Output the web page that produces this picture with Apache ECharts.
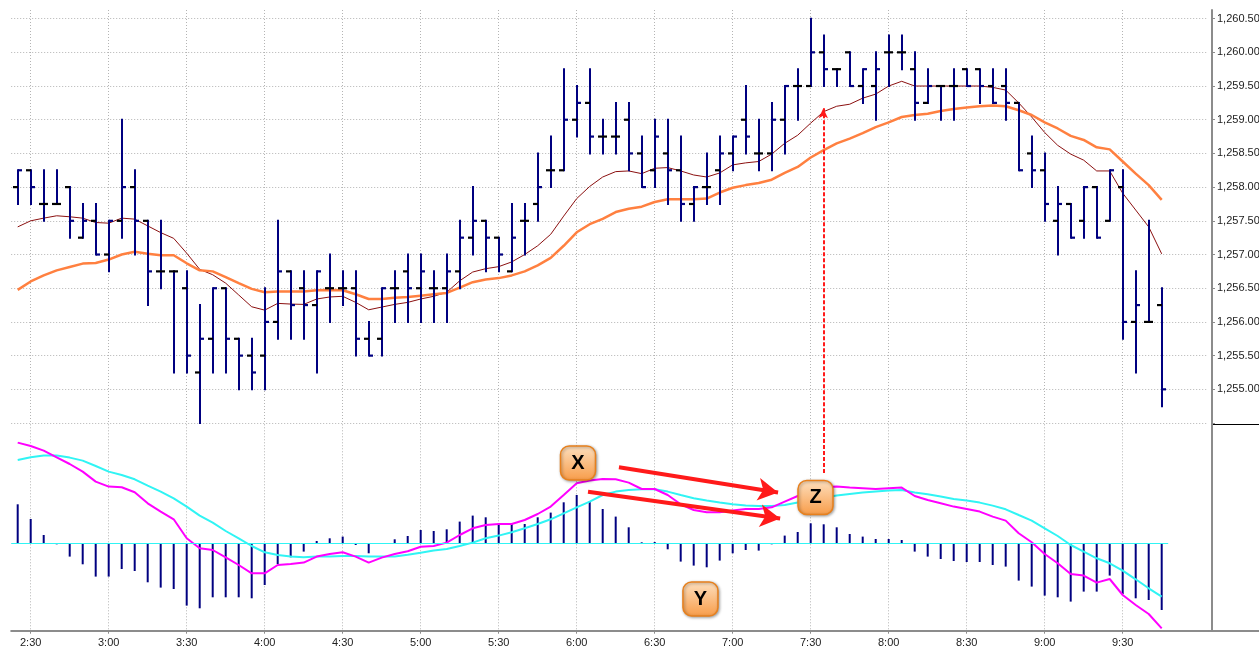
<!DOCTYPE html>
<html lang="en">
<head>
<meta charset="UTF-8">
<title>5-min bars with MACD</title>
<script src="https://cdn.jsdelivr.net/npm/echarts@6.0.0/dist/echarts.min.js"></script>
<style>
  html, body { margin: 0; padding: 0; background: #fff; }
  #chart { width: 1259px; height: 653px; }
</style>
</head>
<body>
<div id="chart"></div>
<script>
// time axis: 5-minute bars, last 3 slots are empty space on the right
const times = [
  '2:25','2:30','2:35','2:40','2:45','2:50','2:55',
  '3:00','3:05','3:10','3:15','3:20','3:25','3:30','3:35','3:40','3:45','3:50','3:55',
  '4:00','4:05','4:10','4:15','4:20','4:25','4:30','4:35','4:40','4:45','4:50','4:55',
  '5:00','5:05','5:10','5:15','5:20','5:25','5:30','5:35','5:40','5:45','5:50','5:55',
  '6:00','6:05','6:10','6:15','6:20','6:25','6:30','6:35','6:40','6:45','6:50','6:55',
  '7:00','7:05','7:10','7:15','7:20','7:25','7:30','7:35','7:40','7:45','7:50','7:55',
  '8:00','8:05','8:10','8:15','8:20','8:25','8:30','8:35','8:40','8:45','8:50','8:55',
  '9:00','9:05','9:10','9:15','9:20','9:25','9:30','9:35','9:40','9:45','9:50','9:55',
  '10:00'
];

const open = [
  1258, 1258.25, 1257.75, 1257.75, 1258, 1257.25, 1257.5, 1257, 1257.5, 1258,
  1257.5, 1256.75, 1256.75, 1256.5, 1255.25, 1255.75, 1256.5, 1255.75, 1255.5, 1255.5,
  1256, 1256.75, 1256.5, 1256.25, 1256.5, 1256.5, 1256.5, 1255.75, 1255.75, 1256.5,
  1256.75, 1256.5, 1256.5, 1256.5, 1256.75, 1257.25, 1257.5, 1257.25, 1256.75, 1257.5,
  1257.75, 1258.25, 1258.25, 1259, 1259.25, 1258.75, 1258.75, 1259, 1258.5, 1258.25,
  1258.5, 1258.25, 1257.75, 1258, 1258.25, 1258.5, 1259, 1258.5, 1258.5, 1259,
  1259.5, 1259.5, 1260, 1259.75, 1260, 1259.5, 1259.5, 1260, 1260, 1259.75,
  1259.25, 1259.5, 1259.5, 1259.75, 1259.75, 1259.5, 1259.5, 1259.25, 1258.5, 1258.25,
  1257.5, 1257.75, 1257.5, 1258, 1257.5, 1258, 1256, 1256, 1256.25
];
const high = [
  1258.25, 1258.25, 1258.25, 1258.25, 1258, 1257.75, 1257.75, 1257.5, 1259, 1258.25,
  1257.5, 1257.5, 1256.75, 1256.75, 1256.25, 1256.5, 1256.5, 1255.75, 1255.75, 1256.5,
  1257.5, 1256.75, 1256.75, 1256.75, 1257, 1256.75, 1256.75, 1256, 1256.5, 1256.75,
  1257, 1257, 1256.75, 1257, 1257.5, 1258, 1257.5, 1257.25, 1257.75, 1257.75,
  1258.5, 1258.75, 1259.75, 1259.5, 1259.75, 1259, 1259.25, 1259.25, 1258.75, 1259,
  1259, 1258.75, 1258, 1258.5, 1258.75, 1258.75, 1259.5, 1259, 1259.25, 1259.5,
  1259.75, 1260.5, 1260.25, 1259.75, 1260, 1259.75, 1260, 1260.25, 1260.25, 1260,
  1259.75, 1259.5, 1259.75, 1259.75, 1259.75, 1259.75, 1259.75, 1259.25, 1258.75, 1258.5,
  1258, 1257.75, 1258, 1258, 1258.25, 1258.25, 1256.75, 1257.5, 1256.5
];
const low = [
  1257.75, 1257.75, 1257.5, 1257.75, 1257.25, 1257.25, 1257, 1256.75, 1257.25, 1257,
  1256.25, 1256.5, 1255.25, 1255.25, 1254.5, 1255.25, 1255.25, 1255, 1255, 1255,
  1255.75, 1255.75, 1255.75, 1255.25, 1256, 1256.25, 1255.5, 1255.5, 1255.5, 1256,
  1256, 1256, 1256, 1256, 1256.5, 1257, 1256.75, 1256.75, 1256.75, 1257,
  1257.5, 1258, 1258.25, 1258.75, 1258.5, 1258.5, 1258.5, 1258.25, 1258, 1258,
  1257.75, 1257.5, 1257.5, 1257.75, 1257.75, 1258.25, 1258.5, 1258.25, 1258.25, 1258.5,
  1259, 1259.5, 1259.5, 1259.5, 1259.5, 1259.25, 1259, 1259.5, 1259.75, 1259,
  1259.25, 1259, 1259, 1259.5, 1259.25, 1259.25, 1259, 1258.25, 1258, 1257.5,
  1257, 1257.25, 1257.25, 1257.25, 1257.5, 1255.75, 1255.25, 1256, 1254.75
];
const close = [
  1258.25, 1258, 1257.75, 1257.75, 1257.5, 1257.5, 1257, 1257.5, 1258, 1257.5,
  1256.75, 1256.75, 1256.75, 1255.5, 1255.75, 1256.5, 1255.75, 1255.5, 1255.25, 1256,
  1256.75, 1256.25, 1256.25, 1256.75, 1256.5, 1256.5, 1255.75, 1255.5, 1256.5, 1256.5,
  1256.5, 1256.75, 1256.5, 1256.75, 1257.25, 1257.5, 1257.25, 1257, 1257.25, 1257.5,
  1258, 1258.25, 1259, 1259.25, 1258.75, 1258.75, 1258.75, 1258.5, 1258, 1258.75,
  1258.25, 1257.75, 1258, 1258, 1258.5, 1258.75, 1258.75, 1258.5, 1259, 1259.5,
  1259.5, 1260, 1259.75, 1259.75, 1259.5, 1259.75, 1259.75, 1260, 1260, 1259.25,
  1259.5, 1259.5, 1259.5, 1259.5, 1259.5, 1259.25, 1259.25, 1258.25, 1258.25, 1257.75,
  1257.75, 1257.25, 1258, 1257.25, 1258.25, 1256, 1256.25, 1256, 1255
];

// moving averages
const maFast = [
  1257.41, 1257.5, 1257.54, 1257.575, 1257.56, 1257.54, 1257.475, 1257.465, 1257.54, 1257.525,
  1257.425, 1257.325, 1257.24, 1257.02, 1256.78, 1256.7, 1256.575, 1256.4, 1256.225, 1256.175,
  1256.275, 1256.265, 1256.26, 1256.34, 1256.37, 1256.38, 1256.29, 1256.18, 1256.22, 1256.26,
  1256.29, 1256.34, 1256.38, 1256.44, 1256.61, 1256.74, 1256.79, 1256.82, 1256.89, 1257.0,
  1257.13, 1257.3, 1257.57, 1257.83, 1258.01, 1258.15, 1258.23, 1258.24, 1258.2, 1258.28,
  1258.29, 1258.24, 1258.18, 1258.15, 1258.21, 1258.33, 1258.36, 1258.38, 1258.49, 1258.65,
  1258.77, 1258.95, 1259.12, 1259.2, 1259.23, 1259.32, 1259.38, 1259.5, 1259.57, 1259.5,
  1259.5, 1259.5, 1259.5, 1259.5, 1259.5, 1259.48, 1259.44, 1259.25, 1259.04, 1258.81,
  1258.62, 1258.49, 1258.4, 1258.24, 1258.24, 1257.91, 1257.66, 1257.41, 1257.01
];
const maSlow = [
  1256.475, 1256.6, 1256.69, 1256.765, 1256.815, 1256.865, 1256.875, 1256.925, 1257.0, 1257.04,
  1257.01, 1256.99, 1256.99, 1256.87, 1256.765, 1256.75, 1256.665, 1256.575, 1256.49, 1256.44,
  1256.45, 1256.45, 1256.45, 1256.47, 1256.475, 1256.47, 1256.41, 1256.34, 1256.34, 1256.36,
  1256.37, 1256.39, 1256.41, 1256.43, 1256.51, 1256.59, 1256.63, 1256.65, 1256.69, 1256.75,
  1256.84, 1256.95, 1257.13, 1257.33, 1257.45, 1257.53, 1257.63, 1257.68, 1257.71, 1257.78,
  1257.82, 1257.82, 1257.82, 1257.83, 1257.92, 1257.99, 1258.03, 1258.06, 1258.11, 1258.21,
  1258.3, 1258.44, 1258.55, 1258.65, 1258.72, 1258.8, 1258.89, 1258.96, 1259.04, 1259.07,
  1259.09, 1259.13, 1259.16, 1259.18, 1259.2, 1259.21, 1259.2, 1259.14, 1259.07, 1258.96,
  1258.87, 1258.76, 1258.7, 1258.59, 1258.56, 1258.38, 1258.2, 1258.03, 1257.81
];

// lower panel: macd, signal and histogram
const macd = [
  1.007, 0.973, 0.927, 0.86, 0.793, 0.717, 0.617, 0.567, 0.56, 0.51,
  0.4, 0.317, 0.24, 0.05, -0.05, -0.067, -0.14, -0.217, -0.3, -0.3,
  -0.217, -0.207, -0.193, -0.133, -0.107, -0.09, -0.133, -0.193, -0.143, -0.107,
  -0.08, -0.035, -0.027, 0.007, 0.083, 0.15, 0.183, 0.193, 0.193, 0.233,
  0.293, 0.367, 0.483, 0.6, 0.627, 0.643, 0.64, 0.607, 0.543, 0.543,
  0.483, 0.39, 0.333, 0.31, 0.31, 0.327, 0.343, 0.343, 0.36, 0.417,
  0.473, 0.52, 0.56, 0.567, 0.557, 0.55, 0.543, 0.55, 0.557, 0.473,
  0.433, 0.4, 0.367, 0.343, 0.317, 0.267, 0.227, 0.1, 0.01, -0.107,
  -0.2, -0.307, -0.323, -0.393, -0.357, -0.517, -0.617, -0.707, -0.85
];
const signal = [
  0.833, 0.86, 0.877, 0.877, 0.857, 0.827, 0.773, 0.717, 0.683, 0.64,
  0.577, 0.517, 0.45, 0.367, 0.277, 0.207, 0.123, 0.05, -0.027, -0.09,
  -0.117, -0.133, -0.14, -0.133, -0.133, -0.127, -0.127, -0.133, -0.133, -0.133,
  -0.115, -0.095, -0.073, -0.057, -0.027, 0.007, 0.05, 0.077, 0.11, 0.15,
  0.193, 0.24, 0.3, 0.36, 0.417, 0.483, 0.517, 0.533, 0.54, 0.54,
  0.517, 0.483, 0.45, 0.427, 0.407, 0.39, 0.377, 0.373, 0.373, 0.383,
  0.407, 0.43, 0.455, 0.477, 0.493, 0.507, 0.517, 0.527, 0.533, 0.507,
  0.49, 0.467, 0.443, 0.427, 0.407, 0.377, 0.34, 0.283, 0.227, 0.15,
  0.073, -0.017, -0.083, -0.15, -0.2, -0.273, -0.36, -0.45, -0.533
];
const hist = [
  0.39, 0.243, 0.083, -0.01, -0.133, -0.21, -0.333, -0.333, -0.257, -0.277,
  -0.39, -0.443, -0.457, -0.623, -0.65, -0.54, -0.54, -0.54, -0.55, -0.417,
  -0.207, -0.14, -0.083, 0.023, 0.05, 0.067, -0.017, -0.1, 0.003, 0.04,
  0.073, 0.133, 0.123, 0.14, 0.217, 0.277, 0.26, 0.2, 0.193, 0.193,
  0.26, 0.307, 0.41, 0.483, 0.423, 0.343, 0.267, 0.16, 0.01, 0.013,
  -0.06, -0.183, -0.223, -0.24, -0.173, -0.1, -0.067, -0.073, -0.01, 0.077,
  0.113, 0.2, 0.19, 0.16, 0.093, 0.067, 0.043, 0.043, 0.033, -0.083,
  -0.133, -0.157, -0.177, -0.187, -0.187, -0.217, -0.233, -0.373, -0.433, -0.523,
  -0.54, -0.583, -0.483, -0.483, -0.323, -0.507, -0.55, -0.567, -0.667
];

const NAVY = '#000080';
const GRID_DOT = '#b4b4b4';
const AXIS_GREY = '#8c8c8c';
const FONT = "'Liberation Sans', Arial, sans-serif";
const nBars = open.length;
const showAt = (i) => i % 6 === 1 && i < nBars;

const ohlc = open.map((o, i) => [i, o, high[i], low[i], close[i]]);

function renderBar(params, api) {
  const i = api.value(0);
  const o = api.coord([i, api.value(1)]);
  const h = api.coord([i, api.value(2)]);
  const l = api.coord([i, api.value(3)]);
  const c = api.coord([i, api.value(4)]);
  const x = Math.round(o[0]);
  const doji = api.value(1) === api.value(4);
  return {
    type: 'group',
    children: [
      { type: 'line', shape: { x1: x, y1: h[1] - 1, x2: x, y2: l[1] + 1 }, style: { stroke: NAVY, lineWidth: 2 } },
      { type: 'line', shape: { x1: x - 5, y1: o[1], x2: x, y2: o[1] }, style: { stroke: '#000', lineWidth: 2.2 } },
      { type: 'line', shape: { x1: x, y1: c[1], x2: x + 4, y2: c[1] }, style: { stroke: doji ? '#000' : NAVY, lineWidth: 2.2 } }
    ]
  };
}

function catAxis(gridIndex, labels) {
  return {
    type: 'category',
    gridIndex: gridIndex,
    data: times,
    boundaryGap: true,
    axisLine: { show: labels, onZero: false, lineStyle: { color: AXIS_GREY, width: 2 } },
    axisTick: { show: labels, alignWithLabel: true, interval: showAt, length: 3, lineStyle: { color: AXIS_GREY } },
    axisLabel: { show: labels, interval: showAt, color: '#222', fontSize: 11, fontFamily: FONT, margin: 7 },
    splitLine: { show: true, alignWithLabel: true, interval: showAt, lineStyle: { color: GRID_DOT, type: [1, 2], width: 1 } }
  };
}

const chart = echarts.init(document.getElementById('chart'));

const option = {
  animation: false,
  backgroundColor: '#fff',
  grid: [
    { left: 11.2, right: 51.8, top: 10, height: 414.3, containLabel: false, outerBoundsMode: 'none' },
    { left: 11.2, right: 51.8, top: 424.3, height: 206.4, containLabel: false, outerBoundsMode: 'none' }
  ],
  xAxis: [
    catAxis(0, false),
    catAxis(1, true),
    { type: 'value', gridIndex: 1, min: -0.5, max: 91.5, show: false },
    { type: 'value', gridIndex: 0, min: -0.5, max: 91.5, show: false }
  ],
  yAxis: [
    {
      type: 'value', gridIndex: 0, position: 'right', offset: 4.8,
      min: 1254.481, max: 1260.628, splitNumber: 12, minInterval: 0.5, maxInterval: 0.5,
      axisLine: { show: true, onZero: false, lineStyle: { color: AXIS_GREY, width: 2 } },
      axisTick: { show: true, length: 3, lineStyle: { color: AXIS_GREY } },
      axisLabel: {
        showMinLabel: false, showMaxLabel: false, margin: 5,
        color: '#222', fontSize: 11, fontFamily: FONT,
        formatter: (v) => (v < 1254.9 || v > 1260.6) ? '' :
          v.toLocaleString('en-US', { minimumFractionDigits: 2, maximumFractionDigits: 2 })
      },
      splitLine: { show: true, showMinLine: false, showMaxLine: false, lineStyle: { color: GRID_DOT, type: [1, 2] } }
    },
    {
      type: 'value', gridIndex: 1, position: 'right', offset: 4.8,
      min: -0.874, max: 1.19,
      axisLine: { show: true, onZero: false, lineStyle: { color: AXIS_GREY, width: 2 } },
      axisTick: { show: false }, axisLabel: { show: false }, splitLine: { show: false }
    }
  ],
  series: [
    {
      name: 'Fast MA', type: 'line', xAxisIndex: 0, yAxisIndex: 0, data: maFast,
      showSymbol: false, lineStyle: { color: '#8b1010', width: 1 }, z: 2
    },
    {
      name: 'Slow MA', type: 'line', xAxisIndex: 0, yAxisIndex: 0, data: maSlow,
      showSymbol: false, lineStyle: { color: '#ff8040', width: 2.5 }, z: 2
    },
    {
      name: 'Price', type: 'custom', xAxisIndex: 0, yAxisIndex: 0, data: ohlc,
      renderItem: renderBar, encode: { x: 0, y: [1, 2, 3, 4] }, z: 3
    },
    {
      name: 'Histogram', type: 'bar', xAxisIndex: 1, yAxisIndex: 1, data: hist,
      barWidth: 2, itemStyle: { color: NAVY }, z: 3
    },
    {
      name: 'Signal', type: 'line', xAxisIndex: 1, yAxisIndex: 1, data: signal,
      showSymbol: false, lineStyle: { color: '#30f4f4', width: 2 }, z: 4
    },
    {
      name: 'MACD', type: 'line', xAxisIndex: 1, yAxisIndex: 1, data: macd,
      showSymbol: false, lineStyle: { color: '#ff00ff', width: 2 }, z: 5
    },
    {
      // annotations in the MACD panel
      name: 'notes', type: 'line', xAxisIndex: 2, yAxisIndex: 1, data: [], z: 8,
      markLine: {
        silent: true, animation: false, z: 15,
        symbol: ['none', 'arrow'], symbolSize: [17, 20],
        label: { show: false },
        lineStyle: { color: '#ff1a1a', width: 4, type: 'solid' },
        data: [
          [{ coord: [-0.5, 0], symbol: 'none', lineStyle: { color: '#30f4f4', width: 1 } }, { coord: [88.5, 0], symbol: 'none' }],
          [{ coord: [46.25, 0.76] }, { coord: [58.49, 0.509] }],
          [{ coord: [43.87, 0.516] }, { coord: [58.65, 0.247] }],
          [{ coord: [61.97, 0.703], symbol: 'none', lineStyle: { color: '#ff1a1a', width: 2, type: [4, 2] } }, { coord: [61.97, 1.19], symbol: 'none' }]
        ]
      },
      markPoint: {
        silent: true, animation: false, z: 20,
        symbol: 'roundRect', symbolSize: [35, 34],
        itemStyle: {
          color: { type: 'linear', x: 0, y: 0, x2: 0, y2: 1, colorStops: [
            { offset: 0, color: '#fde0c0' }, { offset: 1, color: '#f89c48' }
          ] },
          borderColor: '#e8801c', borderWidth: 1.5,
          shadowBlur: 3, shadowColor: 'rgba(0,0,0,0.35)', shadowOffsetX: 1, shadowOffsetY: 1
        },
        label: { show: true, position: 'inside', formatter: '{b}', color: '#000', fontSize: 20, fontWeight: 'bold', fontFamily: FONT },
        data: [
          { name: 'X', coord: [43.1, 0.803] },
          { name: 'Y', coord: [52.52, -0.557] },
          { name: 'Z', coord: [61.37, 0.458] }
        ]
      }
    },
    {
      // dashed arrow continuing up into the price panel
      name: 'notes2', type: 'line', xAxisIndex: 3, yAxisIndex: 0, data: [], z: 8,
      markLine: {
        silent: true, animation: false, z: 15,
        symbol: ['none', 'arrow'], symbolSize: [7, 10],
        label: { show: false },
        lineStyle: { color: '#ff1a1a', width: 2, type: [4, 2] },
        data: [
          [{ coord: [61.97, 1254.481] }, { coord: [61.97, 1259.17] }]
        ]
      }
    }
  ],
  graphic: [
    { type: 'line', silent: true, shape: { x1: 1207, y1: 631, x2: 1259, y2: 631 }, style: { stroke: AXIS_GREY, lineWidth: 2 } },
    { type: 'line', silent: true, shape: { x1: 1212, y1: 424.5, x2: 1259, y2: 424.5 }, style: { stroke: '#000', lineWidth: 1 } }
  ]
};

chart.setOption(option);
</script>
</body>
</html>
